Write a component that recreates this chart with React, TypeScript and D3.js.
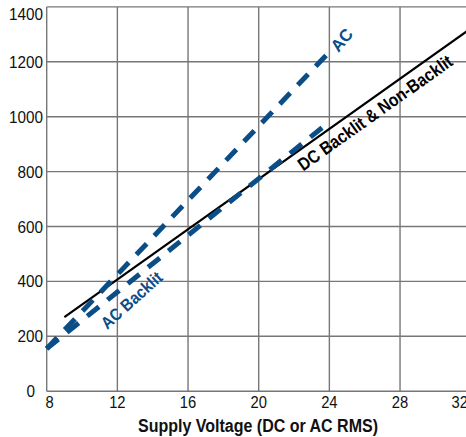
import React from "react";
import * as d3 from "d3";

const xTicks = [8, 12, 16, 20, 24, 28, 32];
const yTicks = [0, 200, 400, 600, 800, 1000, 1200, 1400];

const acVoltage = [8, 24];
const acCurrent = [155, 1236];
const acBacklitVoltage = [8, 24];
const acBacklitCurrent = [155, 981];
const dcVoltage = [9, 32];
const dcCurrent = [270, 1321];

const W = 466;
const H = 437;
const FONT = "'Liberation Sans', Arial, Helvetica, sans-serif";
const BLUE = "#0a4d87";
const GRID = "#777777";

export default function App() {
  const x = d3.scaleLinear().domain([8, 32]).range([46.7, 470.7]);
  const y = d3.scaleLinear().domain([0, 1400]).range([391.2, 6.9]);

  const line = d3
    .line<[number, number]>()
    .x((d) => x(d[0]))
    .y((d) => y(d[1]));

  const zip = (a: number[], b: number[]) => a.map((v, i) => [v, b[i]] as [number, number]);

  const dcAt = (v: number) =>
    dcCurrent[0] + ((v - dcVoltage[0]) * (dcCurrent[1] - dcCurrent[0])) / (dcVoltage[1] - dcVoltage[0]);
  const dcAngle =
    (Math.atan2(y(dcAt(20)) - y(dcAt(30)), x(30) - x(20)) * 180) / Math.PI;

  const xLabelPos = (t: number) => (t === 8 ? x(t) + 3 : t === 32 ? x(t) - 11 : x(t));

  return (
    <div style={{ position: "absolute", left: 0, top: 0 }}>
      <svg width={W} height={H} style={{ display: "block", background: "#fff" }} fontFamily={FONT}>
        {/* grid */}
        {xTicks.map((t) => (
          <line key={"gx" + t} x1={x(t)} x2={x(t)} y1={y(1400)} y2={y(0)} stroke={GRID} strokeWidth={1.4} />
        ))}
        {yTicks.map((t) => (
          <line key={"gy" + t} x1={x(8)} x2={W} y1={y(t)} y2={y(t)} stroke={GRID} strokeWidth={1.4} />
        ))}
        {/* y tick labels */}
        {yTicks.map((t) => (
          <text
            key={"ty" + t}
            x={t === 0 ? 35 : 43}
            y={t === 1400 ? y(t) + 13 : y(t) + 6}
            textAnchor="end"
            fontSize={16}
            fill="#111"
            textLength={String(t).length * 8.5}
            lengthAdjust="spacingAndGlyphs"
          >
            {t}
          </text>
        ))}
        {/* x tick labels */}
        {xTicks.map((t) => (
          <text
            key={"tx" + t}
            x={xLabelPos(t)}
            y={408}
            textAnchor="middle"
            fontSize={16}
            fill="#111"
            textLength={String(t).length * 8.2}
            lengthAdjust="spacingAndGlyphs"
          >
            {t}
          </text>
        ))}
        <text
          x={258}
          y={432}
          textAnchor="middle"
          fontSize={18}
          fontWeight="bold"
          fill="#111"
          textLength={240}
          lengthAdjust="spacingAndGlyphs"
        >
          Supply Voltage (DC or AC RMS)
        </text>

        {/* series */}
        <path d={line(zip(dcVoltage, dcCurrent)) || ""} fill="none" stroke="#000" strokeWidth={2.2} />
        <path
          d={line(zip(acBacklitVoltage, acBacklitCurrent)) || ""}
          fill="none"
          stroke={BLUE}
          strokeWidth={5}
          strokeDasharray="15,11"
        />
        <path
          d={line(zip(acVoltage, acCurrent)) || ""}
          fill="none"
          stroke={BLUE}
          strokeWidth={5}
          strokeDasharray="15,11"
        />

        {/* labels */}
        <text
          transform={`translate(${x(26.15)},${y(dcAt(26.15))}) rotate(${-dcAngle})`}
          dy={19.5}
          textAnchor="middle"
          fontSize={18}
          fontWeight="bold"
          fill="#000"
          textLength={185}
          lengthAdjust="spacingAndGlyphs"
        >
          DC Backlit &amp; Non-Backlit
        </text>
        <text
          transform={`translate(${x(12.8)},${y(332)}) rotate(-42)`}
          dy={6}
          textAnchor="middle"
          fontSize={17}
          fontWeight="bold"
          fill={BLUE}
          textLength={76}
          lengthAdjust="spacingAndGlyphs"
        >
          AC Backlit
        </text>
        <text
          transform={`translate(${x(24.7)},${y(1280)}) rotate(-50)`}
          dy={6}
          textAnchor="middle"
          fontSize={17}
          fontWeight="bold"
          fill={BLUE}
          textLength={24}
          lengthAdjust="spacingAndGlyphs"
        >
          AC
        </text>
      </svg>
    </div>
  );
}
